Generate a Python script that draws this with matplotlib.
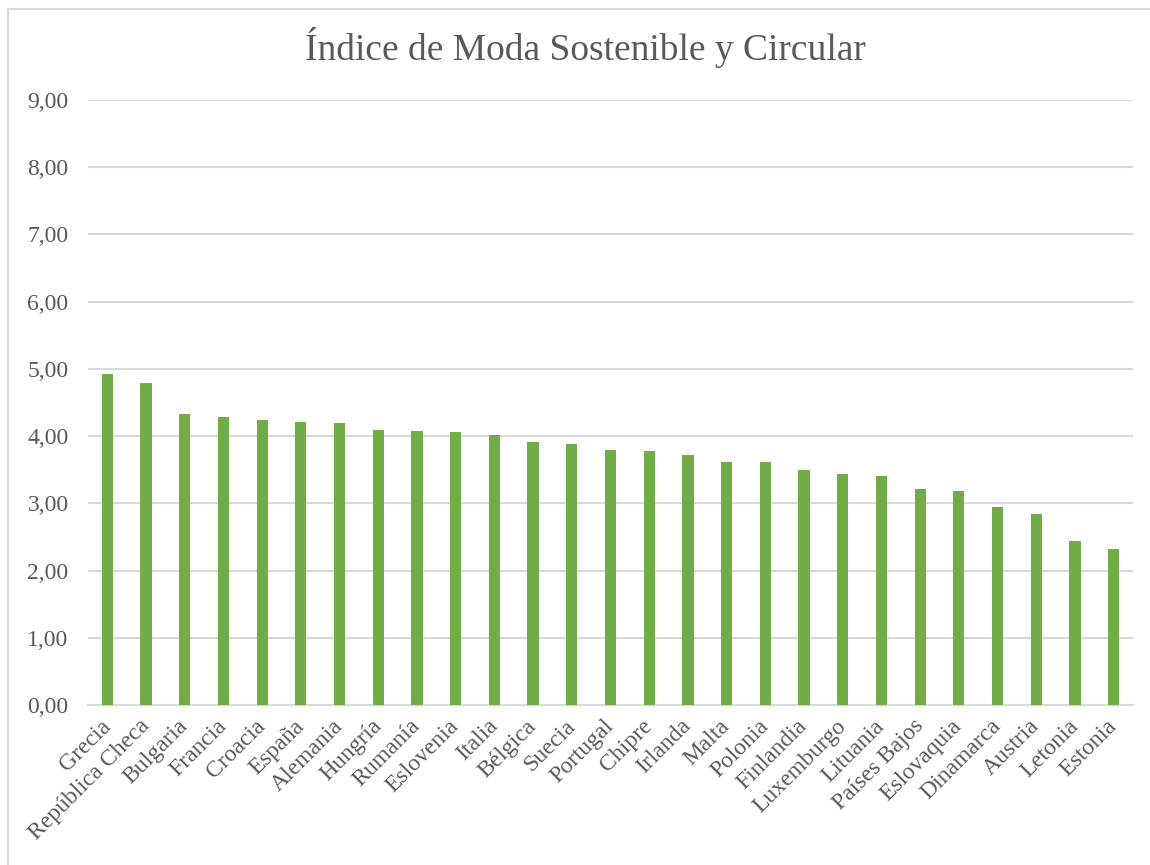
import matplotlib
matplotlib.use("Agg")
from matplotlib import pyplot as plt
from matplotlib.patches import Rectangle
from matplotlib.ticker import FuncFormatter
import numpy as np

#data
paises = ['Grecia', 'República Checa', 'Bulgaria', 'Francia', 'Croacia', 'España',
          'Alemania', 'Hungría', 'Rumanía', 'Eslovenia', 'Italia', 'Bélgica', 'Suecia',
          'Portugal', 'Chipre', 'Irlanda', 'Malta', 'Polonia', 'Finlandia', 'Luxemburgo',
          'Lituania', 'Países Bajos', 'Eslovaquia', 'Dinamarca', 'Austria', 'Letonia',
          'Estonia']
indice = [4.92, 4.79, 4.33, 4.28, 4.24, 4.21, 4.19, 4.09, 4.07, 4.06, 4.02, 3.91, 3.88,
          3.79, 3.78, 3.72, 3.62, 3.62, 3.49, 3.43, 3.41, 3.22, 3.19, 2.95, 2.84, 2.44,
          2.32]
y_ticks = np.arange(0, 10, 1)

plt.rcParams['font.family'] = ['Liberation Serif', 'DejaVu Serif']
gris = '#595959'

fig = plt.figure(figsize=(11.5, 8.65), dpi=100)
ax = fig.add_axes([88 / 1150, 1 - 705 / 865, (1133 - 88) / 1150, 605 / 865])

#chart border
fig.patches.append(Rectangle((8 / 1150, -0.01), 1.02, 1 - 9 / 865 + 0.01,
                             transform=fig.transFigure, fill=False,
                             edgecolor='#D9D9D9', linewidth=1.5))

x = np.arange(len(paises))
ax.bar(x, indice, width=0.29, color='#70AD47', zorder=3)

ax.set_xlim(-0.5, len(paises) - 0.5)
ax.set_ylim(0, 9)
ax.set_yticks(y_ticks)
ax.yaxis.set_major_formatter(FuncFormatter(lambda v, p: f'{v:.2f}'.replace('.', ',')))
ax.grid(axis='y', color='#D9D9D9', linewidth=1.5, zorder=0)

ax.set_xticks(x)
ax.set_xticklabels(paises, rotation=45, ha='right', va='center', rotation_mode='anchor')
ax.tick_params(axis='both', length=0, labelsize=17, colors=gris)
ax.tick_params(axis='y', pad=14)
ax.tick_params(axis='x', pad=13)

for s in ['top', 'right', 'left']:
    ax.spines[s].set_visible(False)
ax.spines['bottom'].set_color('#D9D9D9')
ax.spines['bottom'].set_linewidth(1.5)

fig.text(585 / 1150, 1 - 47 / 865, 'Índice de Moda Sostenible y Circular', ha='center',
         va='center', fontsize=27, color=gris)

fig.savefig('out.png', dpi=100)
